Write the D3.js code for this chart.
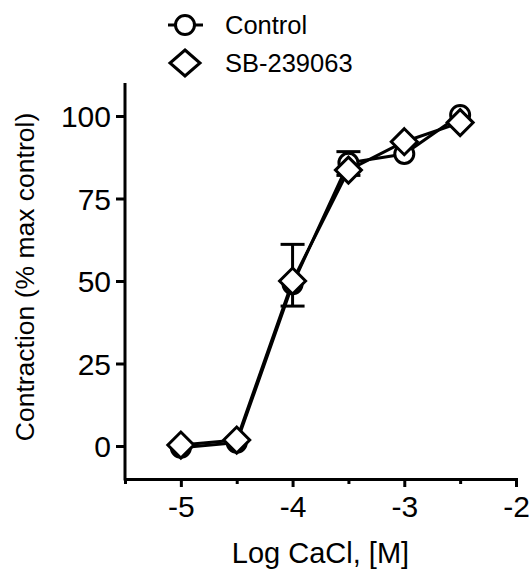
<!DOCTYPE html>
<html>
<head>
<meta charset="utf-8">
<script src="https://cdn.jsdelivr.net/npm/d3@7"></script>
<style>
  body { margin: 0; background: #fff; }
  svg text { font-family: "Liberation Sans", Arial, sans-serif; fill: #000; }
</style>
</head>
<body>
<div id="chart"></div>
<script>
// log concentrations of CaCl
const logConc = [-5, -4.5, -4, -3.5, -3, -2.5];

// % of max control contraction
const control = [-0.5, 1, 49, 85.8, 88.5, 100.3];
const sb239063 = [0.3, 1.8, 50, 83.6, 92.2, 98];

// error bar bounds (only where visible)
const errLow = [null, null, 42.4, 82, null, null];
const errHigh = [null, null, 61.1, 89.2, null, null];

const xMajor = [-5, -4, -3, -2];
const xMinor = [-4.5, -3.5, -2.5];
const yTicks = [0, 25, 50, 75, 100];

const seriesNames = ["Control", "SB-239063"];

const width = 529, height = 569;
const margin = { top: 83, left: 125, bottom: 90, right: 13 };

const svg = d3.select("#chart")
    .append("svg")
    .attr("width", width)
    .attr("height", height);

const xscale = d3.scaleLinear().domain([-5.5, -2]).range([margin.left, width - margin.right]);
const yscale = d3.scaleLinear().domain([-10, 110]).range([height - margin.bottom, margin.top]);

// diamond path centred on 0,0
function diamond(w, h) {
    return "M0," + (-h) + "L" + w + ",0L0," + h + "L" + (-w) + ",0Z";
}

const line = d3.line()
    .x(function(d) { return xscale(d.x); })
    .y(function(d) { return yscale(d.y); });

function pts(vals) {
    return logConc.map(function(x, i) { return { x: x, y: vals[i] }; });
}

// error bars
const errData = logConc.map(function(x, i) { return { x: x, lo: errLow[i], hi: errHigh[i] }; })
    .filter(function(d) { return d.lo !== null; });

const eb = svg.append("g").attr("stroke", "#000").attr("stroke-width", 3);
errData.forEach(function(d) {
    eb.append("line")
        .attr("x1", xscale(d.x)).attr("x2", xscale(d.x))
        .attr("y1", yscale(d.lo)).attr("y2", yscale(d.hi));
    [d.lo, d.hi].forEach(function(v) {
        eb.append("line")
            .attr("x1", xscale(d.x) - 12).attr("x2", xscale(d.x) + 12)
            .attr("y1", yscale(v)).attr("y2", yscale(v));
    });
});

svg.append("path")
    .datum(pts(control))
    .attr("fill", "none")
    .attr("stroke", "#000")
    .attr("stroke-width", 3)
    .attr("d", line);

svg.selectAll("circle.ctrl")
    .data(pts(control))
    .enter()
    .append("circle")
    .attr("class", "ctrl")
    .attr("r", 9.5)
    .attr("cx", function(d) { return xscale(d.x); })
    .attr("cy", function(d) { return yscale(d.y); })
    .attr("fill", "#fff")
    .attr("stroke", "#000")
    .attr("stroke-width", 3);

svg.append("path")
    .datum(pts(sb239063))
    .attr("fill", "none")
    .attr("stroke", "#000")
    .attr("stroke-width", 3)
    .attr("d", line);

svg.selectAll("path.sb")
    .data(pts(sb239063))
    .enter()
    .append("path")
    .attr("class", "sb")
    .attr("d", diamond(13, 13))
    .attr("transform", function(d) { return "translate(" + xscale(d.x) + "," + yscale(d.y) + ")"; })
    .attr("fill", "#fff")
    .attr("stroke", "#000")
    .attr("stroke-width", 3)
    .attr("stroke-linejoin", "miter");

// x-axis (hyphen minus like the original, not the unicode minus)
const xAxis = svg.append("g")
    .attr("transform", "translate(0," + yscale.range()[0] + ")")
    .call(d3.axisBottom(xscale).tickValues(xMajor).tickSize(8).tickPadding(9)
        .tickFormat(function(d) { return String(d); }));
xAxis.append("g")
    .call(d3.axisBottom(xscale).tickValues(xMinor).tickSize(5).tickFormat(""));

// y-axis
const yAxis = svg.append("g")
    .attr("transform", "translate(" + margin.left + ",0)")
    .call(d3.axisLeft(yscale).tickValues(yTicks).tickSize(9).tickPadding(5));

svg.selectAll(".domain").attr("stroke-width", 3);
xAxis.select(".domain").attr("d", "M" + (margin.left - 1.5) + ",0H" + (width - margin.right + 1.5));
xAxis.select("g .domain").remove();
yAxis.select(".domain").attr("d", "M0," + yscale.range()[1] + "V" + (yscale.range()[0] + 1.5));
svg.selectAll(".tick line").attr("stroke-width", 3);
xAxis.selectAll(".tick text").style("font-size", "30px");
yAxis.selectAll(".tick text").style("font-size", "30px").attr("dy", "0.35em");

// axis titles
svg.append("text")
    .attr("x", (xscale.range()[0] + xscale.range()[1]) / 2)
    .attr("y", 563)
    .attr("text-anchor", "middle")
    .style("font-size", "29px")
    .text("Log CaCl, [M]");

svg.append("text")
    .attr("transform", "translate(34," + ((yscale.range()[0] + yscale.range()[1]) / 2 - 4) + ") rotate(-90)")
    .attr("text-anchor", "middle")
    .style("font-size", "26.5px")
    .text("Contraction (% max control)");

// legend
const legend = svg.append("g").attr("transform", "translate(185,0)");
legend.append("line")
    .attr("x1", -17).attr("x2", 18).attr("y1", 25).attr("y2", 25)
    .attr("stroke", "#000").attr("stroke-width", 3);
legend.append("circle")
    .attr("cx", 0).attr("cy", 25).attr("r", 9.5)
    .attr("fill", "#fff").attr("stroke", "#000").attr("stroke-width", 3);
legend.append("path")
    .attr("d", diamond(15, 13))
    .attr("transform", "translate(0,63)")
    .attr("fill", "#fff").attr("stroke", "#000").attr("stroke-width", 3);
legend.selectAll("text.leg")
    .data(seriesNames)
    .enter()
    .append("text")
    .attr("class", "leg")
    .attr("x", 40)
    .attr("y", function(d, i) { return 34 + i * 38; })
    .style("font-size", "25.5px")
    .text(function(d) { return d; });
</script>
</body>
</html>
